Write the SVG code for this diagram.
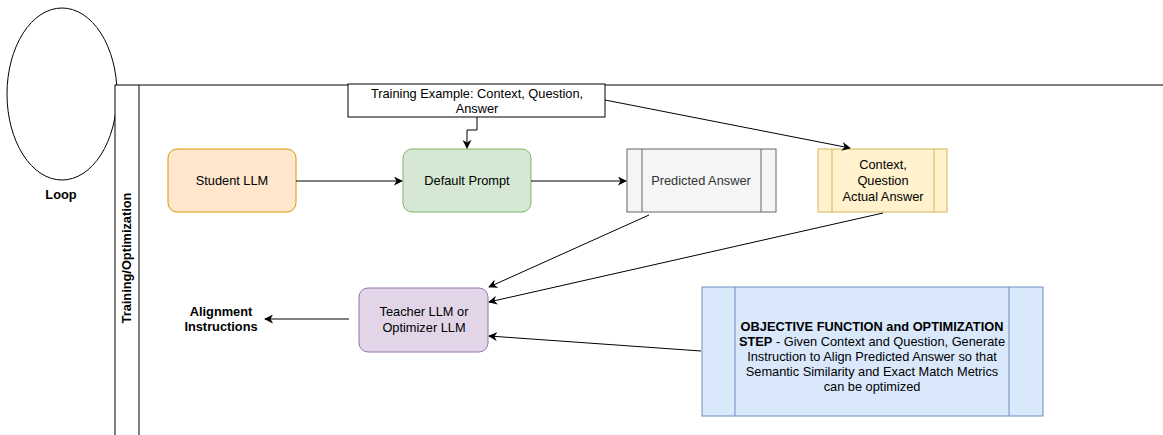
<svg xmlns="http://www.w3.org/2000/svg" width="1163" height="435" viewBox="0 0 1163 435">
<style>
text{font-family:"Liberation Sans",Arial,sans-serif;font-size:12.8px;fill:#000}
.b{font-weight:bold}
.c{text-anchor:middle}
.edge{fill:none;stroke:#000;stroke-width:1}
</style>
<defs>
<marker id="arr" viewBox="0 0 10 10" refX="9" refY="5" markerWidth="9" markerHeight="9" markerUnits="userSpaceOnUse" orient="auto">
<path d="M0,0 L10,5 L0,10 L3,5 Z" fill="#000"/>
</marker>
</defs>
<rect width="1163" height="435" fill="#fff"/>
<g id="loop">
<ellipse cx="62" cy="94" rx="55" ry="86" fill="#fff" stroke="#000"/>
<text x="61" y="199" class="b c">Loop</text>
</g>
<g id="swimlane">
<rect x="115" y="85" width="1100" height="400" fill="#fff" stroke="#000"/>
<line x1="139" y1="85" x2="139" y2="435" stroke="#000"/>
<text transform="translate(131,258) rotate(-90)" class="b c">Training/Optimization</text>
</g>
<g id="training-example">
<rect x="348" y="84" width="257" height="33" fill="#fff" stroke="#000"/>
<text x="477" y="98" class="c">Training Example: Context, Question,</text>
<text x="477" y="113" class="c">Answer</text>
</g>
<g id="student-llm">
<rect x="168" y="149" width="128" height="63" rx="9" fill="#ffe6cc" stroke="#d79b00"/>
<text x="232" y="185" class="c">Student LLM</text>
</g>
<g id="default-prompt">
<rect x="403" y="149" width="128" height="63" rx="9" fill="#d5e8d4" stroke="#82b366"/>
<text x="467" y="185" class="c">Default Prompt</text>
</g>
<g id="predicted-answer">
<rect x="627" y="149" width="149" height="63" fill="#f5f5f5" stroke="#666"/>
<line x1="642" y1="149" x2="642" y2="212" stroke="#666"/>
<line x1="761" y1="149" x2="761" y2="212" stroke="#666"/>
<text x="701" y="185" class="c" style="fill:#333">Predicted Answer</text>
</g>
<g id="context-box">
<rect x="818" y="149" width="129" height="63" fill="#fff2cc" stroke="#d6b656"/>
<line x1="832" y1="149" x2="832" y2="212" stroke="#d6b656"/>
<line x1="934" y1="149" x2="934" y2="212" stroke="#d6b656"/>
<text x="883" y="169" class="c">Context,</text>
<text x="883" y="185" class="c">Question</text>
<text x="883" y="201" class="c">Actual Answer</text>
</g>
<g id="teacher-llm">
<rect x="359" y="288" width="129" height="64" rx="9" fill="#e1d5e7" stroke="#9673a6"/>
<text x="424" y="316" class="c">Teacher LLM or</text>
<text x="424" y="332" class="c">Optimizer LLM</text>
</g>
<g id="alignment">
<text x="221" y="316" class="b c">Alignment</text>
<text x="221" y="331" class="b c">Instructions</text>
</g>
<g id="objective">
<rect x="702" y="287" width="341" height="129" fill="#dae8fc" stroke="#6c8ebf"/>
<line x1="735" y1="287" x2="735" y2="416" stroke="#6c8ebf"/>
<line x1="1009" y1="287" x2="1009" y2="416" stroke="#6c8ebf"/>
<text x="872" y="331" class="b c">OBJECTIVE FUNCTION and OPTIMIZATION</text>
<text x="872" y="346" class="c"><tspan class="b">STEP</tspan> - Given Context and Question, Generate</text>
<text x="872" y="361" class="c">Instruction to Align Predicted Answer so that</text>
<text x="872" y="376" class="c">Semantic Similarity and Exact Match Metrics</text>
<text x="872" y="391" class="c">can be optimized</text>
</g>
<g id="connectors">
<path class="edge" d="M477,117 V130 H467 V148" marker-end="url(#arr)"/>
<path class="edge" d="M605,100 L850,148" marker-end="url(#arr)"/>
<path class="edge" d="M296,181 H402" marker-end="url(#arr)"/>
<path class="edge" d="M531,181 H626" marker-end="url(#arr)"/>
<path class="edge" d="M649,215 L489,287" marker-end="url(#arr)"/>
<path class="edge" d="M883,213 L489,302" marker-end="url(#arr)"/>
<path class="edge" d="M701,351 L489,336" marker-end="url(#arr)"/>
<path class="edge" d="M349,319 H265" marker-end="url(#arr)"/>
</g>
</svg>
